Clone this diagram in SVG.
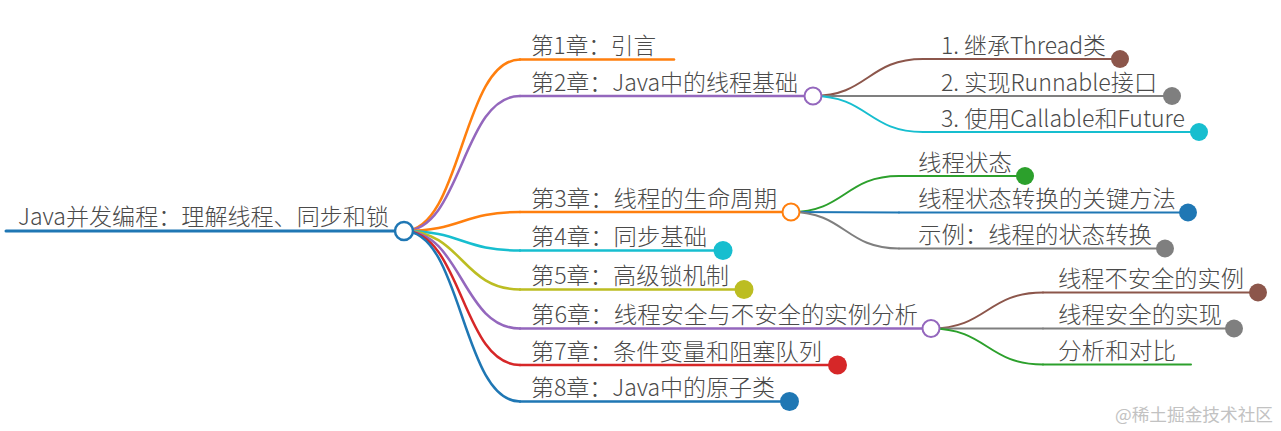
<svg xmlns="http://www.w3.org/2000/svg" width="1281" height="431" viewBox="0 0 1281 431">
<style>
text{font-family:"Noto Sans CJK SC","Noto Sans",sans-serif;font-size:23px;font-weight:300;fill:#4a4a4a}
.wm{font-size:17px;fill:#c2c2c2;font-weight:400}
path{fill:none;stroke-linecap:round}
.l1{stroke-width:2.5}
.l2{stroke-width:2}
.open{fill:#fff;stroke-width:2}
</style>
<rect width="1281" height="431" fill="#fff"/>
<g id="connectors">
<path class="l1" stroke="#ff7f0e" d="M404 231 C462 231 462 59.5 520 59.5"/>
<path class="l1" stroke="#9467bd" d="M404 231 C462 231 462 96 520 96"/>
<path class="l1" stroke="#ff7f0e" d="M404 231 C462 231 462 212 520 212"/>
<path class="l1" stroke="#17becf" d="M404 231 C462 231 462 250.5 520 250.5"/>
<path class="l1" stroke="#bcbd22" d="M404 231 C462 231 462 289.5 520 289.5"/>
<path class="l1" stroke="#9467bd" d="M404 231 C462 231 462 328.5 520 328.5"/>
<path class="l1" stroke="#d62728" d="M404 231 C462 231 462 365 520 365"/>
<path class="l1" stroke="#1f77b4" d="M404 231 C462 231 462 401.5 520 401.5"/>
<path class="l2" stroke="#8c564b" d="M813 96 C868 96 868 59 923 59"/>
<path class="l2" stroke="#7f7f7f" d="M813 96 L923 96"/>
<path class="l2" stroke="#17becf" d="M813 96 C868 96 868 132 923 132"/>
<path class="l2" stroke="#2ca02c" d="M791 212 C845 212 845 176 899 176"/>
<path class="l2" stroke="#1f77b4" d="M791 212 L899 212.5"/>
<path class="l2" stroke="#7f7f7f" d="M791 212 C845 212 845 248.5 899 248.5"/>
<path class="l2" stroke="#8c564b" d="M931 328.5 C987 328.5 987 292.5 1043 292.5"/>
<path class="l2" stroke="#7f7f7f" d="M931 328.5 L1043 328.5"/>
<path class="l2" stroke="#2ca02c" d="M931 328.5 C987 328.5 987 364.5 1043 364.5"/>
</g>
<g id="root">
<path stroke="#1f77b4" stroke-width="3" d="M6 231 H404"/>
<text x="18" y="225" textLength="371" lengthAdjust="spacingAndGlyphs">Java并发编程：理解线程、同步和锁</text>
<circle cx="404" cy="231" r="9" fill="#fff" stroke="#1f77b4" stroke-width="2.5"/>
</g>
<g id="ch1">
<path class="l1" stroke="#ff7f0e" d="M520 59.5 H674"/>
<text x="531" y="54" textLength="125" lengthAdjust="spacingAndGlyphs">第1章：引言</text>
</g>
<g id="ch2">
<path class="l1" stroke="#9467bd" d="M520 96 H813"/>
<text x="531" y="90.5" textLength="267" lengthAdjust="spacingAndGlyphs">第2章：Java中的线程基础</text>
<circle class="open" cx="813" cy="96" r="8.5" stroke="#9467bd"/>
</g>
<g id="ch2-1">
<path class="l2" stroke="#8c564b" d="M923 59 H1120"/>
<text x="941" y="53.5" textLength="165" lengthAdjust="spacingAndGlyphs">1. 继承Thread类</text>
<circle cx="1120" cy="59" r="9" fill="#8c564b"/>
</g>
<g id="ch2-2">
<path class="l2" stroke="#7f7f7f" d="M923 96 H1172"/>
<text x="941" y="90.5" textLength="216" lengthAdjust="spacingAndGlyphs">2. 实现Runnable接口</text>
<circle cx="1172" cy="96" r="9" fill="#7f7f7f"/>
</g>
<g id="ch2-3">
<path class="l2" stroke="#17becf" d="M923 132 H1199"/>
<text x="941" y="126.5" textLength="244" lengthAdjust="spacingAndGlyphs">3. 使用Callable和Future</text>
<circle cx="1199" cy="132" r="9" fill="#17becf"/>
</g>
<g id="ch3">
<path class="l1" stroke="#ff7f0e" d="M520 212 H791"/>
<text x="531" y="206.5" textLength="246" lengthAdjust="spacingAndGlyphs">第3章：线程的生命周期</text>
<circle class="open" cx="791" cy="212" r="8.5" stroke="#ff7f0e"/>
</g>
<g id="ch3-1">
<path class="l2" stroke="#2ca02c" d="M899 176 H1025"/>
<text x="918" y="170.5" textLength="94" lengthAdjust="spacingAndGlyphs">线程状态</text>
<circle cx="1025" cy="176" r="9" fill="#2ca02c"/>
</g>
<g id="ch3-2">
<path class="l2" stroke="#1f77b4" d="M899 212.5 H1188"/>
<text x="918" y="207" textLength="258" lengthAdjust="spacingAndGlyphs">线程状态转换的关键方法</text>
<circle cx="1188" cy="212.5" r="9" fill="#1f77b4"/>
</g>
<g id="ch3-3">
<path class="l2" stroke="#7f7f7f" d="M899 248.5 H1165"/>
<text x="918" y="243" textLength="234" lengthAdjust="spacingAndGlyphs">示例：线程的状态转换</text>
<circle cx="1165" cy="248.5" r="9" fill="#7f7f7f"/>
</g>
<g id="ch4">
<path class="l1" stroke="#17becf" d="M520 250.5 H723"/>
<text x="531" y="245" textLength="176" lengthAdjust="spacingAndGlyphs">第4章：同步基础</text>
<circle cx="723" cy="250.5" r="9.5" fill="#17becf"/>
</g>
<g id="ch5">
<path class="l1" stroke="#bcbd22" d="M520 289.5 H744"/>
<text x="531" y="284" textLength="198" lengthAdjust="spacingAndGlyphs">第5章：高级锁机制</text>
<circle cx="744" cy="289.5" r="9.5" fill="#bcbd22"/>
</g>
<g id="ch6">
<path class="l1" stroke="#9467bd" d="M520 328.5 H931"/>
<text x="531" y="323" textLength="387" lengthAdjust="spacingAndGlyphs">第6章：线程安全与不安全的实例分析</text>
<circle class="open" cx="931" cy="328.5" r="8.5" stroke="#9467bd"/>
</g>
<g id="ch6-1">
<path class="l2" stroke="#8c564b" d="M1043 292.5 H1258"/>
<text x="1058" y="287" textLength="186" lengthAdjust="spacingAndGlyphs">线程不安全的实例</text>
<circle cx="1258" cy="292.5" r="9" fill="#8c564b"/>
</g>
<g id="ch6-2">
<path class="l2" stroke="#7f7f7f" d="M1043 328.5 H1234"/>
<text x="1058" y="323" textLength="164" lengthAdjust="spacingAndGlyphs">线程安全的实现</text>
<circle cx="1234" cy="328.5" r="9" fill="#7f7f7f"/>
</g>
<g id="ch6-3">
<path class="l2" stroke="#2ca02c" d="M1043 364.5 H1191"/>
<text x="1058" y="359" textLength="118" lengthAdjust="spacingAndGlyphs">分析和对比</text>
</g>
<g id="ch7">
<path class="l1" stroke="#d62728" d="M520 365 H837.5"/>
<text x="531" y="359.5" textLength="291" lengthAdjust="spacingAndGlyphs">第7章：条件变量和阻塞队列</text>
<circle cx="837.5" cy="365" r="9.5" fill="#d62728"/>
</g>
<g id="ch8">
<path class="l1" stroke="#1f77b4" d="M520 401.5 H789.5"/>
<text x="531" y="396" textLength="244" lengthAdjust="spacingAndGlyphs">第8章：Java中的原子类</text>
<circle cx="789.5" cy="401.5" r="9.5" fill="#1f77b4"/>
</g>
<text class="wm" x="1115" y="421" textLength="158" lengthAdjust="spacingAndGlyphs">@稀土掘金技术社区</text>
</svg>
